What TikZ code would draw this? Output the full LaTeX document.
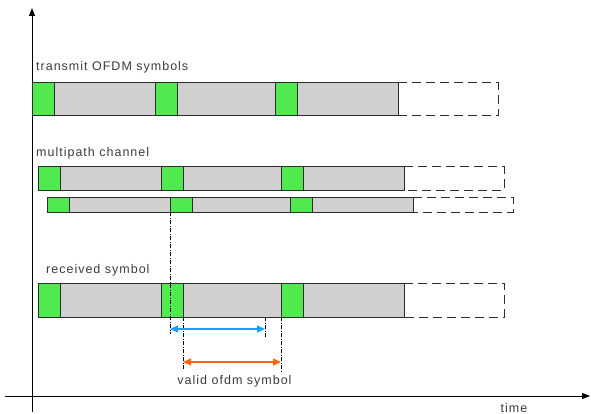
\documentclass[tikz,border=0pt]{standalone}
\usepackage{fontspec}
\setsansfont{Liberation Sans}[LetterSpace=8]
\usetikzlibrary{arrows.meta}

\definecolor{cpgreen}{RGB}{80,234,80}
\definecolor{symgray}{RGB}{208,208,208}
\definecolor{edgegray}{RGB}{45,45,45}
\definecolor{txtgray}{RGB}{60,60,60}
\definecolor{winblue}{RGB}{25,160,255}
\definecolor{winorange}{RGB}{255,100,20}

\begin{document}
\begin{tikzpicture}[x=1pt, y=-1pt,
    cp/.style={fill=cpgreen, draw=edgegray, line width=1pt},
    sym/.style={fill=symgray, draw=edgegray, line width=1pt},
    nextsym/.style={draw=edgegray, dash pattern=on 9pt off 5pt, line width=1pt},
    guide/.style={draw=black, dash pattern=on 4pt off 1.5pt on 1pt off 1.5pt, line width=0.6pt},
    axis/.style={line width=1pt, -{Triangle[length=8pt, width=6pt]}},
    window/.style={line width=1.2pt, {Triangle[length=8pt, width=7pt]}-{Triangle[length=8pt, width=7pt]}},
    lbl/.style={font=\sffamily\fontsize{12.5}{14}\selectfont, text=txtgray, inner sep=0pt}]
    \useasboundingbox (0,0) rectangle (591,414);

    % axes
    \coordinate (origin) at (32,396);
    \draw[axis] (origin |- 0,412) -- (origin |- 0,8);
    \draw[axis] (5,396) -- (590,396);
    \node[lbl, anchor=base] (timelbl) at (514,412.5) {time};

    % symbol rows: x offset / top / bottom / name
    \foreach \x/\top/\bot/\n in {32/83/116/tx, 38/167/190/pa, 47/197/212/pb, 38/283/317/rx} {
        \foreach \s/\e [count=\i] in {0/123, 123/243, 243/366} {
            \draw[sym] (\x+\s+22,\top) rectangle (\x+\e,\bot);
            \draw[cp] (\x+\s,\top) rectangle (\x+\s+22,\bot);
            \coordinate (\n-cp\i) at (\x+\s,\bot);
            \coordinate (\n-data\i) at (\x+\s+22,\bot);
        }
        \draw[nextsym] (\x+366,\top) -- (\x+466,\top) -- (\x+466,\bot) -- (\x+366,\bot);
    }

    % labels
    \node[lbl, anchor=base west] (txlbl) at (36,71) {transmit OFDM symbols};
    \node[lbl, anchor=base west] (palbl) at (36,157) {multipath channel};
    \node[lbl, anchor=base west] (rxlbl) at (46,273) {received symbol};

    % FFT windows
    \coordinate (blueL) at (pb-cp2 |- 0,329);
    \coordinate (blueR) at (265,329);
    \coordinate (orangeL) at (rx-data2 |- 0,362);
    \coordinate (orangeR) at (rx-cp3 |- 0,362);
    \draw[guide] (pb-cp2) -- ++(0,122);
    \draw[guide] (blueR |- rx-data2) -- ++(0,21);
    \draw[guide] (rx-data2) -- ++(0,53);
    \draw[guide] (rx-cp3) -- ++(0,56);
    \draw[window, winblue] (blueL) -- (blueR);
    \draw[window, winorange] (orangeL) -- (orangeR);
    \node[lbl, anchor=base] (validlbl) at (234.5,384) {valid ofdm symbol};
\end{tikzpicture}
\end{document}
